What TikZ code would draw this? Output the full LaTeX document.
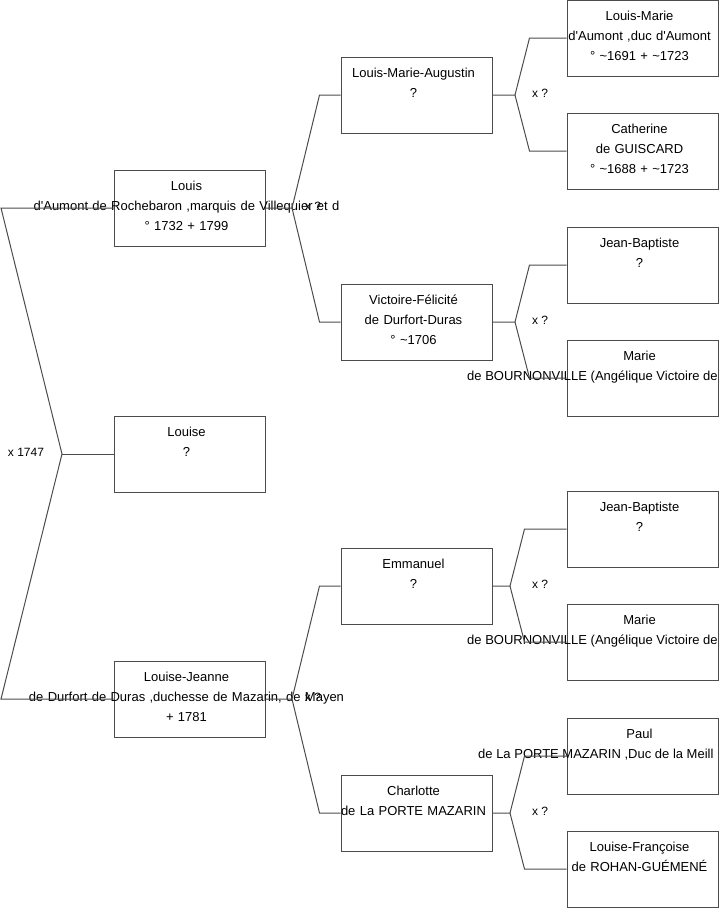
\documentclass[tikz,border=0pt]{standalone}
\usepackage{fontspec}
\setmainfont{Liberation Sans}[Ligatures=TeXOff]
\usetikzlibrary{calc, positioning}

\tikzset{
    pbox/.style={draw=black!70, line width=1pt, minimum width=151pt, minimum height=76pt, inner sep=0pt},
    ptext/.style={anchor=base, text width=400pt, align=center, inner sep=0pt, xshift=-3pt, font=\fontsize{13}{20}\selectfont},
    pline/.style={anchor=base west, inner sep=0pt, font=\fontsize{13}{20}\selectfont},
    link/.style={draw=black!70, line width=1pt},
    mlabel/.style={inner sep=0pt, font=\fontsize{12}{14}\selectfont},
}

\begin{document}
\begin{tikzpicture}[x=1pt, y=-1pt]
    \useasboundingbox (0,0) rectangle (719,908);
    \clip (0,0) rectangle (719,908);

    % generation 1
    \node[pbox] (louis) at (189.5,208) {};
    \node[ptext] (louis-t) at ($(louis.north)+(0,20.5)$) {Louis\\d'Aumont de Rochebaron ,marquis de Villequier et d\\° 1732 + 1799};
    \node[pbox] (louise) at (189.5,454) {};
    \node[ptext] (louise-t) at ($(louise.north)+(0,20.5)$) {Louise\\?};
    \node[pbox] (lj) at (189.5,699) {};
    \node[ptext] (lj-t) at ($(lj.north)+(0,20.5)$) {Louise-Jeanne\\de Durfort de Duras ,duchesse de Mazarin, de Mayen\\+ 1781};

    % generation 2
    \node[pbox] (lma) at (416.5,95) {};
    \node[ptext] (lma-t) at ($(lma.north)+(0,20.5)$) {Louis-Marie-Augustin\\?};
    \node[pbox] (vf) at (416.5,322) {};
    \node[ptext] (vf-t) at ($(vf.north)+(0,20.5)$) {Victoire-Félicité\\de Durfort-Duras\\° \textasciitilde 1706};
    \node[pbox] (emm) at (416.5,586) {};
    \node[ptext] (emm-t) at ($(emm.north)+(0,20.5)$) {Emmanuel\\?};
    \node[pbox] (charl) at (416.5,813) {};
    \node[ptext] (charl-t) at ($(charl.north)+(0,20.5)$) {Charlotte\\de La PORTE MAZARIN};

    % generation 3
    \node[pbox] (lm) at (642.5,38) {};
    \node[ptext] (lm-t) at ($(lm.north)+(0,20.5)$) {Louis-Marie\\d'Aumont ,duc d'Aumont\\° \textasciitilde 1691 + \textasciitilde 1723};
    \node[pbox] (cath) at (642.5,151) {};
    \node[ptext] (cath-t) at ($(cath.north)+(0,20.5)$) {Catherine\\de GUISCARD\\° \textasciitilde 1688 + \textasciitilde 1723};
    \node[pbox] (jb1) at (642.5,265) {};
    \node[ptext] (jb1-t) at ($(jb1.north)+(0,20.5)$) {Jean-Baptiste\\?};
    \node[pbox] (marie1) at (642.5,378) {};
    \node[ptext] (marie1-t) at ($(marie1.north)+(0,20.5)$) {Marie};
    \node[pline] (marie1-u) at ($(marie1.north)+(-175.5,40.5)$) {de BOURNONVILLE (Angélique Victoire de};
    \node[pbox] (jb2) at (642.5,529) {};
    \node[ptext] (jb2-t) at ($(jb2.north)+(0,20.5)$) {Jean-Baptiste\\?};
    \node[pbox] (marie2) at (642.5,642) {};
    \node[ptext] (marie2-t) at ($(marie2.north)+(0,20.5)$) {Marie};
    \node[pline] (marie2-u) at ($(marie2.north)+(-175.5,40.5)$) {de BOURNONVILLE (Angélique Victoire de};
    \node[pbox] (paul) at (642.5,756) {};
    \node[ptext] (paul-t) at ($(paul.north)+(0,20.5)$) {Paul};
    \node[pline] (paul-u) at ($(paul.north)+(-164.5,40.5)$) {de La PORTE MAZARIN ,Duc de la Meill};
    \node[pbox] (lf) at (642.5,869) {};
    \node[ptext] (lf-t) at ($(lf.north)+(0,20.5)$) {Louise-Françoise\\de ROHAN-GUÉMENÉ};

    % forks
    \coordinate (f0) at (62,454);
    \coordinate (f0a) at (1,208);
    \coordinate (f0b) at (1,699);
    \coordinate (f1) at (292,208);
    \coordinate (f4) at (292,699);
    \coordinate (f2) at (515,95);
    \coordinate (f3) at (515,322);
    \coordinate (f5) at (510,586);
    \coordinate (f6) at (510,813);

    \draw[link] (louis.west) -- (f0a) -- (f0) -- (f0b) -- (lj.west);
    \draw[link] (f0) -- (louise.west);

    \draw[link] (louis.east) -- (f1) -- ([xshift=-21pt]lma.west) -- (lma.west);
    \draw[link] (f1) -- ([xshift=-21pt]vf.west) -- (vf.west);
    \draw[link] (lj.east) -- (f4) -- ([xshift=-21pt]emm.west) -- (emm.west);
    \draw[link] (f4) -- ([xshift=-21pt]charl.west) -- (charl.west);

    \draw[link] (lma.east) -- (f2) -- ([xshift=-37pt]lm.west) -- (lm.west);
    \draw[link] (f2) -- ([xshift=-37pt]cath.west) -- (cath.west);
    \draw[link] (vf.east) -- (f3) -- ([xshift=-37pt]jb1.west) -- (jb1.west);
    \draw[link] (f3) -- ([xshift=-37pt]marie1.west) -- (marie1.west);
    \draw[link] (emm.east) -- (f5) -- ([xshift=-42pt]jb2.west) -- (jb2.west);
    \draw[link] (f5) -- ([xshift=-42pt]marie2.west) -- (marie2.west);
    \draw[link] (charl.east) -- (f6) -- ([xshift=-42pt]paul.west) -- (paul.west);
    \draw[link] (f6) -- ([xshift=-42pt]lf.west) -- (lf.west);

    % marriage labels
    \node[mlabel] (x0) at (26,452) {x 1747};
    \node[mlabel] (x1) at (313,206) {x ?};
    \node[mlabel] (x4) at (313,697) {x ?};
    \node[mlabel] (x2) at (540,93) {x ?};
    \node[mlabel] (x3) at (540,320) {x ?};
    \node[mlabel] (x5) at (540,584) {x ?};
    \node[mlabel] (x6) at (540,811) {x ?};
\end{tikzpicture}
\end{document}
